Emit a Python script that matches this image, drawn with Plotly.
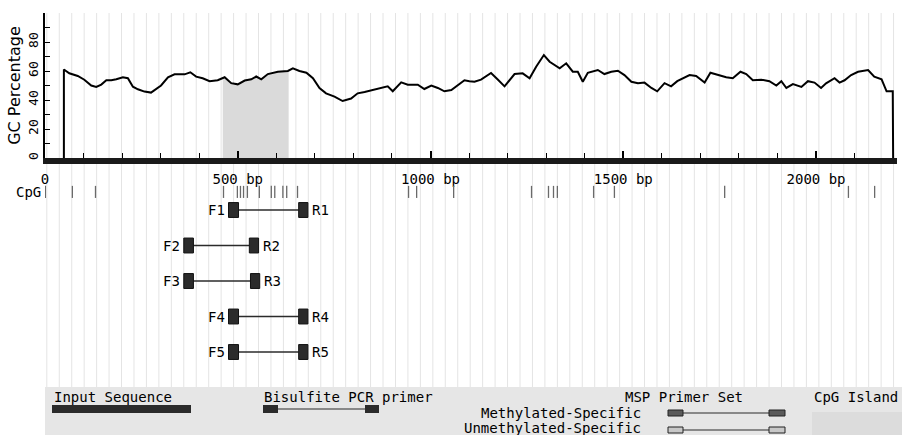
import plotly.graph_objects as go
import numpy as np

# ---------------- data ----------------
GC_POS = [49, 49, 63, 85, 102, 120, 133, 146, 159, 172, 185, 202, 215, 228, 241, 258, 275, 288, 301, 319,
          336, 362, 377, 392, 409, 427, 448, 466, 483, 500, 518, 535, 548, 561, 578, 604, 630, 643, 660, 678,
          695, 712, 729, 751, 772, 794, 811, 829, 850, 872, 889, 902, 924, 941, 967, 984, 1002, 1019, 1036, 1054,
          1071, 1088, 1101, 1114, 1131, 1157, 1175, 1192, 1218, 1239, 1257, 1274, 1294, 1309, 1335, 1352, 1369, 1382, 1395, 1408,
          1434, 1451, 1469, 1486, 1503, 1521, 1538, 1555, 1573, 1588, 1607, 1624, 1640, 1672, 1689, 1711, 1726, 1745, 1767, 1784,
          1804, 1819, 1836, 1858, 1879, 1897, 1910, 1923, 1940, 1962, 1979, 1996, 2013, 2026, 2048, 2061, 2074, 2091, 2109, 2135,
          2151, 2170, 2183, 2199, 2200]
GC_VAL = [0, 61, 58.4, 56.6, 54, 50, 49, 50.6, 53.6, 53.6, 54.3, 55.7, 55, 49.2, 47.4, 45.8, 45.1, 47.4, 50, 55.7,
          57.7, 57.7, 59.1, 56.1, 55, 53, 53.6, 55.7, 51.6, 50.8, 53.4, 54.3, 56.2, 54.3, 57.9, 59.5, 60, 61.8, 60, 58.8,
          55, 48.3, 44.6, 42.3, 39.3, 41, 44.6, 45.5, 46.9, 48.3, 49.4, 46, 52.2, 50.6, 50.6, 47.6, 50, 48.3, 46, 46.9,
          50, 53.6, 53, 52.6, 54, 58.6, 54, 49.4, 57.9, 58.4, 55, 63, 71, 66.4, 61.8, 65.3, 59.5, 59.5, 52.6, 58.8,
          60.7, 57.9, 59.5, 60.2, 57.2, 52.6, 51.5, 52, 48.3, 46, 51.6, 49.4, 53, 57.2, 56.6, 52, 58.8, 57.2, 55.7, 55,
          59.5, 57.9, 53.6, 54, 53, 50, 53, 48.3, 51, 49, 53, 52, 48.3, 51.5, 55, 52, 53.6, 57.2, 59.5, 60.7,
          56.1, 54.3, 46, 46, 0]

SEQ_LEN = 2210
ISLAND = [461, 632]

CPG_SITES = [1, 71, 131, 463, 499, 507, 515, 525, 556, 587, 596, 617, 627, 655, 943, 964,
             1060, 1262, 1306, 1319, 1329, 1423, 1477, 1763, 2084, 2152]

PRIMER_NAMES_F = ["F1", "F2", "F3", "F4", "F5"]
PRIMER_NAMES_R = ["R1", "R2", "R3", "R4", "R5"]
F_START = [476, 360, 360, 476, 476]
F_END = [502, 385, 385, 502, 502]
R_START = [658, 530, 533, 658, 658]
R_END = [682, 554, 557, 682, 682]
PRIMER_ROWS = [1, 2, 3, 4, 5]

X_TICKS = [0, 500, 1000, 1500, 2000]
X_TICK_TEXT = ["0", "500 bp", "1000 bp", "1500 bp", "2000 bp"]

# ---------------- style ----------------
MONO = "DejaVu Sans Mono"
DARK = "#2b2b2b"
ISLAND_COLOR = "#dadada"
GRID_COLOR = "#e4e4e4"
CPG_ROW = 0.49
CPG_HALF = 0.17
BOX_HALF = 0.21
W, H = 902, 435


def px(xp):
    return (xp - 45) / 852


def py(yp):
    return (H - yp) / H


fig = go.Figure()

# CpG island fill under curve
gx = np.array(GC_POS, dtype=float)
gy = np.array(GC_VAL, dtype=float)
mask = (gx > ISLAND[0]) & (gx < ISLAND[1])
ix = [ISLAND[0]] + list(gx[mask]) + [ISLAND[1]]
iy = [float(np.interp(ISLAND[0], gx[2:-1], gy[2:-1]))] + list(gy[mask]) + \
     [float(np.interp(ISLAND[1], gx[2:-1], gy[2:-1]))]
fig.add_trace(go.Scatter(x=[ix[0]] + ix + [ix[-1]], y=[0] + iy + [0], mode="lines",
                         fill="toself", fillcolor=ISLAND_COLOR, line=dict(width=0),
                         hoverinfo="skip", showlegend=False, xaxis="x", yaxis="y"))

# GC line
fig.add_trace(go.Scatter(x=GC_POS, y=GC_VAL, mode="lines", line=dict(color="black", width=2),
                         showlegend=False, xaxis="x", yaxis="y"))

# CpG sites
cx, cy = [], []
for p in CPG_SITES:
    cx += [p, p, None]
    cy += [CPG_ROW - CPG_HALF, CPG_ROW + CPG_HALF, None]
fig.add_trace(go.Scatter(x=cx, y=cy, mode="lines", line=dict(color="#6a6a6a", width=1.3),
                         showlegend=False, hoverinfo="skip", xaxis="x", yaxis="y2"))

shapes = []
annotations = []

# background grid stripes
g = 4.7
while g < SEQ_LEN:
    shapes.append(dict(type="line", xref="x", yref="paper", x0=g, x1=g, y0=py(387), y1=py(13),
                       line=dict(color=GRID_COLOR, width=1), layer="below"))
    g += 32.3

# primers
for fn, rn, fs, fe, rs, re_, row in zip(PRIMER_NAMES_F, PRIMER_NAMES_R, F_START, F_END, R_START, R_END, PRIMER_ROWS):
    shapes.append(dict(type="line", xref="x", yref="y2", x0=fe, x1=rs, y0=row, y1=row,
                       line=dict(color=DARK, width=1.5)))
    for a, b in [(fs, fe), (rs, re_)]:
        shapes.append(dict(type="rect", xref="x", yref="y2", x0=a, x1=b, y0=row - BOX_HALF, y1=row + BOX_HALF,
                           fillcolor=DARK, line=dict(color="#111", width=1)))
    annotations.append(dict(x=fs, y=row, xref="x", yref="y2", text=fn, showarrow=False, xanchor="right",
                            xshift=-2, font=dict(family=MONO, size=14, color="black")))
    annotations.append(dict(x=re_, y=row, xref="x", yref="y2", text=rn, showarrow=False, xanchor="left",
                            xshift=2, font=dict(family=MONO, size=14, color="black")))

annotations.append(dict(x=0, y=CPG_ROW, xref="paper", yref="y2", text="CpG", showarrow=False,
                        xanchor="right", xshift=-2, font=dict(family=MONO, size=14, color="black")))

# legend panel
shapes.append(dict(type="rect", xref="paper", yref="paper", x0=px(45), x1=px(903), y0=py(387), y1=py(436),
                   fillcolor="#e6e6e6", line=dict(width=0), layer="above"))
shapes.append(dict(type="rect", xref="paper", yref="paper", x0=px(52), x1=px(191), y0=py(413), y1=py(405),
                   fillcolor=DARK, line=dict(width=0)))
# bisulfite primer icon
shapes.append(dict(type="line", xref="paper", yref="paper", x0=px(278), x1=px(365), y0=py(409), y1=py(409),
                   line=dict(color=DARK, width=1.2)))
for a, b in [(263, 278), (365, 379)]:
    shapes.append(dict(type="rect", xref="paper", yref="paper", x0=px(a), x1=px(b), y0=py(413), y1=py(405),
                       fillcolor=DARK, line=dict(width=0)))
# MSP icons
for yc, fc in [(413, "#5a5a5a"), (430, "#c8c8c8")]:
    shapes.append(dict(type="line", xref="paper", yref="paper", x0=px(683), x1=px(769), y0=py(yc), y1=py(yc),
                       line=dict(color=DARK, width=1.2)))
    for a, b in [(668, 683), (769, 785)]:
        shapes.append(dict(type="rect", xref="paper", yref="paper", x0=px(a), x1=px(b), y0=py(yc + 3), y1=py(yc - 3),
                           fillcolor=fc, line=dict(color="#222", width=1)))
# CpG island swatch
shapes.append(dict(type="rect", xref="paper", yref="paper", x0=px(812), x1=px(903), y0=py(436), y1=py(412),
                   fillcolor="#dcdcdc", line=dict(width=0)))

legend_texts = [
    ("Input Sequence", 52, 397, "left"),
    ("Bisulfite PCR primer", 262, 397, "left"),
    ("MSP Primer Set", 745, 397, "right"),
    ("Methylated-Specific", 643, 413, "right"),
    ("Unmethylated-Specific", 643, 428, "right"),
    ("CpG Island", 812, 397, "left"),
]
for t, xp, yp, anc in legend_texts:
    annotations.append(dict(x=px(xp), y=py(yp), xref="paper", yref="paper", text=t, showarrow=False,
                            xanchor=anc, yanchor="middle", font=dict(family=MONO, size=14, color="black")))

fig.update_layout(
    width=W, height=H,
    margin=dict(l=45, r=5, t=0, b=0),
    paper_bgcolor="white", plot_bgcolor="rgba(0,0,0,0)",
    showlegend=False,
    xaxis=dict(range=[0, SEQ_LEN], anchor="y", showgrid=False, zeroline=False,
               showline=True, linecolor="#1a1a1a", linewidth=6,
               tickmode="array", tickvals=X_TICKS, ticktext=X_TICK_TEXT,
               ticks="inside", ticklen=7, tickwidth=1.5, tickcolor="black",
               minor=dict(tickmode="linear", tick0=0, dtick=100, ticks="inside", ticklen=5,
                          tickwidth=1.2, tickcolor="black", showgrid=False),
               ticklabelstandoff=3,
               tickfont=dict(family=MONO, size=14, color="black"), automargin=False),
    yaxis=dict(domain=[py(158), py(13)], range=[0, 100], anchor="x", showgrid=False, zeroline=False,
               showline=True, linecolor="black", linewidth=2,
               tickmode="linear", tick0=0, dtick=20, ticks="inside", ticklen=5, tickcolor="black",
               minor=dict(tickmode="linear", tick0=0, dtick=10, ticks="inside", ticklen=5, tickcolor="black"),
               tickangle=-90, tickfont=dict(family=MONO, size=13, color="black"),
               title=dict(text="GC Percentage", font=dict(family="DejaVu Sans", size=16, color="black"), standoff=1),
               automargin=False),
    yaxis2=dict(domain=[0, py(158)], range=[7.338, -0.465], anchor="x", visible=False, autorange=False),
    shapes=shapes,
    annotations=annotations,
)

fig.write_html("out.html", config={"displayModeBar": False},
               post_script="document.body.style.margin='0px';document.body.style.overflow='hidden';")
